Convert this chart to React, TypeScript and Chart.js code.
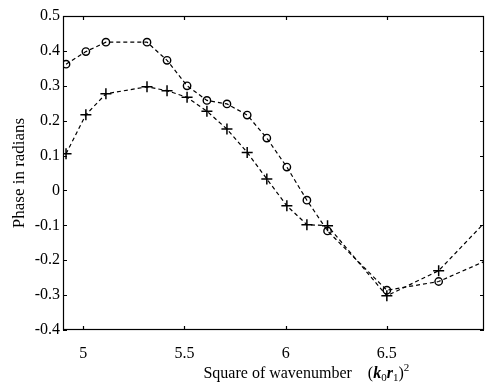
import React, { useEffect, useRef } from "react";
import { Chart, registerables } from "chart.js";

Chart.register(...registerables);

// ---- data ----
const xValues = [4.915, 5.013, 5.112, 5.315, 5.414, 5.513, 5.611, 5.71, 5.81, 5.907, 6.006, 6.105, 6.207, 6.5, 6.756, 6.98];
const circleSeries = [0.362, 0.398, 0.425, 0.425, 0.373, 0.3, 0.258, 0.248, 0.216, 0.15, 0.067, -0.028, -0.116, -0.286, -0.261, -0.204];
const plusSeries = [0.105, 0.217, 0.277, 0.297, 0.286, 0.267, 0.227, 0.176, 0.109, 0.033, -0.044, -0.098, -0.101, -0.302, -0.23, -0.094];
const xTicks = [5, 5.5, 6, 6.5];
const yTicks = [-0.4, -0.3, -0.2, -0.1, 0, 0.1, 0.2, 0.3, 0.4, 0.5];
const yTitle = "Phase in radians";
const xTitleText = "Square of wavenumber";

const FONT = "'Liberation Serif', 'Times New Roman', serif";

const frameTicksPlugin = {
  id: "frameTicks",
  afterDraw(chart: any) {
    const { ctx, chartArea } = chart;
    const { left, right, top, bottom } = chartArea;
    const xs = chart.scales.x;
    const ys = chart.scales.y;
    ctx.save();
    ctx.strokeStyle = "#000";
    ctx.lineWidth = 1.2;
    ctx.setLineDash([]);
    ctx.strokeRect(left + 0.5, top + 0.5, right - left - 1, bottom - top - 1);
    const tl = 4;
    ctx.beginPath();
    xTicks.forEach((v) => {
      const px = Math.round(xs.getPixelForValue(v)) + 0.5;
      ctx.moveTo(px, bottom);
      ctx.lineTo(px, bottom - tl);
      ctx.moveTo(px, top);
      ctx.lineTo(px, top + tl);
    });
    yTicks.forEach((v) => {
      const py = Math.round(ys.getPixelForValue(v)) + 0.5;
      ctx.moveTo(left, py);
      ctx.lineTo(left + tl, py);
      ctx.moveTo(right, py);
      ctx.lineTo(right - tl, py);
    });
    ctx.stroke();

    // x axis title with math notation (k0 r1)^2
    const big = 16;
    const small = 11;
    const segs = [
      { t: xTitleText + "    (", f: `${big}px ${FONT}`, dy: 0 },
      { t: "k", f: `italic bold ${big}px ${FONT}`, dy: 0 },
      { t: "0", f: `${small}px ${FONT}`, dy: 3 },
      { t: "r", f: `italic bold ${big}px ${FONT}`, dy: 0 },
      { t: "1", f: `${small}px ${FONT}`, dy: 3 },
      { t: ")", f: `${big}px ${FONT}`, dy: 0 },
      { t: "2", f: `${small}px ${FONT}`, dy: -7 },
    ];
    let total = 0;
    segs.forEach((s) => {
      ctx.font = s.f;
      total += ctx.measureText(s.t).width;
    });
    const cx = left + (right - left) * 0.578;
    let x = cx - total / 2;
    const baseY = bottom + 48;
    ctx.fillStyle = "#000";
    ctx.textBaseline = "alphabetic";
    ctx.textAlign = "left";
    segs.forEach((s) => {
      ctx.font = s.f;
      ctx.fillText(s.t, x, baseY + s.dy);
      x += ctx.measureText(s.t).width;
    });
    ctx.restore();
  },
};

export default function App() {
  const ref = useRef<HTMLCanvasElement>(null);

  useEffect(() => {
    if (!ref.current) return;
    const mk = (ys: number[]) => xValues.map((x, i) => ({ x, y: ys[i] }));
    const lastHidden = (r: number) => xValues.map((_, i) => (i === xValues.length - 1 ? 0 : r));
    const chart = new Chart(ref.current, {
      type: "line",
      data: {
        datasets: [
          {
            label: "o",
            data: mk(circleSeries),
            borderColor: "#000",
            borderWidth: 1.2,
            borderDash: [4, 3],
            pointStyle: "circle",
            pointRadius: lastHidden(3.7),
            pointBorderWidth: 1.4,
            pointBorderColor: "#000",
            pointBackgroundColor: "rgba(255,255,255,0)",
            fill: false,
            tension: 0,
          },
          {
            label: "+",
            data: mk(plusSeries),
            borderColor: "#000",
            borderWidth: 1.2,
            borderDash: [4, 3],
            pointStyle: "cross",
            pointRadius: lastHidden(5.5),
            pointBorderWidth: 1.5,
            pointBorderColor: "#000",
            fill: false,
            tension: 0,
          },
        ],
      },
      options: {
        responsive: false,
        animation: false,
        events: [],
        layout: { padding: { top: 16, right: 1, left: 0, bottom: 0 } },
        plugins: { legend: { display: false }, tooltip: { enabled: false } },
        scales: {
          x: {
            type: "linear",
            min: 4.9,
            max: 6.98,
            grid: { display: false, drawTicks: false },
            border: { display: false },
            afterBuildTicks: (s: any) => {
              s.ticks = xTicks.map((v) => ({ value: v }));
            },
            afterFit: (s: any) => {
              s.height = 54;
            },
            ticks: {
              color: "#000",
              padding: 14,
              maxRotation: 0,
              font: { family: FONT, size: 16 },
              callback: (v: any) => String(v),
            },
          },
          y: {
            type: "linear",
            min: -0.4,
            max: 0.5,
            grid: { display: false, drawTicks: false },
            border: { display: false },
            afterBuildTicks: (s: any) => {
              s.ticks = yTicks.map((v) => ({ value: v }));
            },
            afterFit: (s: any) => {
              s.width = 63;
            },
            ticks: {
              color: "#000",
              padding: 3,
              font: { family: FONT, size: 16 },
              callback: (v: any) => String(Math.round(Number(v) * 10) / 10),
            },
            title: {
              display: true,
              text: yTitle,
              color: "#000",
              font: { family: FONT, size: 17 },
              padding: { top: 9, bottom: 0 },
            },
          },
        },
      },
      plugins: [frameTicksPlugin],
    });
    return () => chart.destroy();
  }, []);

  return (
    <div style={{ position: "fixed", left: 0, top: 0, width: 491, height: 384, background: "#fff" }}>
      <canvas ref={ref} width={491} height={384} style={{ display: "block" }} />
    </div>
  );
}
